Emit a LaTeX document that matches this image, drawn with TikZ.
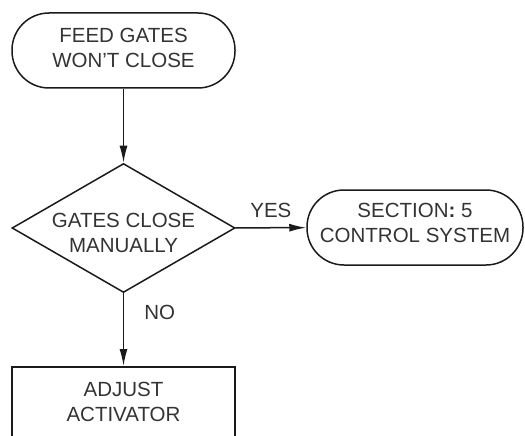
\documentclass[tikz,border=0pt]{standalone}
\usepackage{fontspec}
\setmainfont{Liberation Sans}
\usetikzlibrary{shapes.geometric,arrows.meta}
\definecolor{ink}{HTML}{1A1A1A}
\definecolor{txt}{HTML}{333333}
\tikzset{
  terminal/.style={draw=ink, line width=1.5pt, rectangle, rounded corners=37pt, inner sep=0pt},
  decision/.style={draw=ink, line width=1.5pt, diamond, inner sep=0pt},
  process/.style={draw=ink, line width=1.5pt, rectangle, inner sep=0pt},
  lbl/.style={text=txt, align=center, inner sep=0pt, font=\fontsize{20.5}{25}\selectfont},
  conn/.style={draw=ink, line width=1.5pt, -{Latex[length=17pt,width=8pt]}}
}
\begin{document}
\begin{tikzpicture}[x=1pt,y=-1pt]
\useasboundingbox (0,0) rectangle (525,436);
\clip (0,0) rectangle (525,436);
\node[terminal, minimum width=223pt, minimum height=75pt] (start) at (123.5,50.5) {};
\node[lbl] (startt) at (123.5,48) {FEED GATES\\WON'T CLOSE};
\node[decision, minimum width=223pt, minimum height=129pt] (dec) at (123.5,228) {};
\node[lbl] (dect) at (123.5,233) {GATES CLOSE\\MANUALLY};
\node[terminal, minimum width=216pt, minimum height=75pt] (sec) at (415,227.5) {};
\node[lbl] (sect) at (415,223) {SECTION\textbf{:} 5\\CONTROL SYSTEM};
\node[process, minimum width=223pt, minimum height=110pt, anchor=north] (adj) at (123.5,366) {};
\node[lbl] (adjt) at (123.5,402) {ADJUST\\ACTIVATOR};
\draw[conn] (start) -- (dec);
\draw[conn] (dec) -- (sec) node[lbl, midway, above=9pt] (yes) {YES};
\draw[conn] (dec.south) -- (adj.north) node[lbl, pos=0.27, right=20pt] (no) {NO};
\end{tikzpicture}
\end{document}
